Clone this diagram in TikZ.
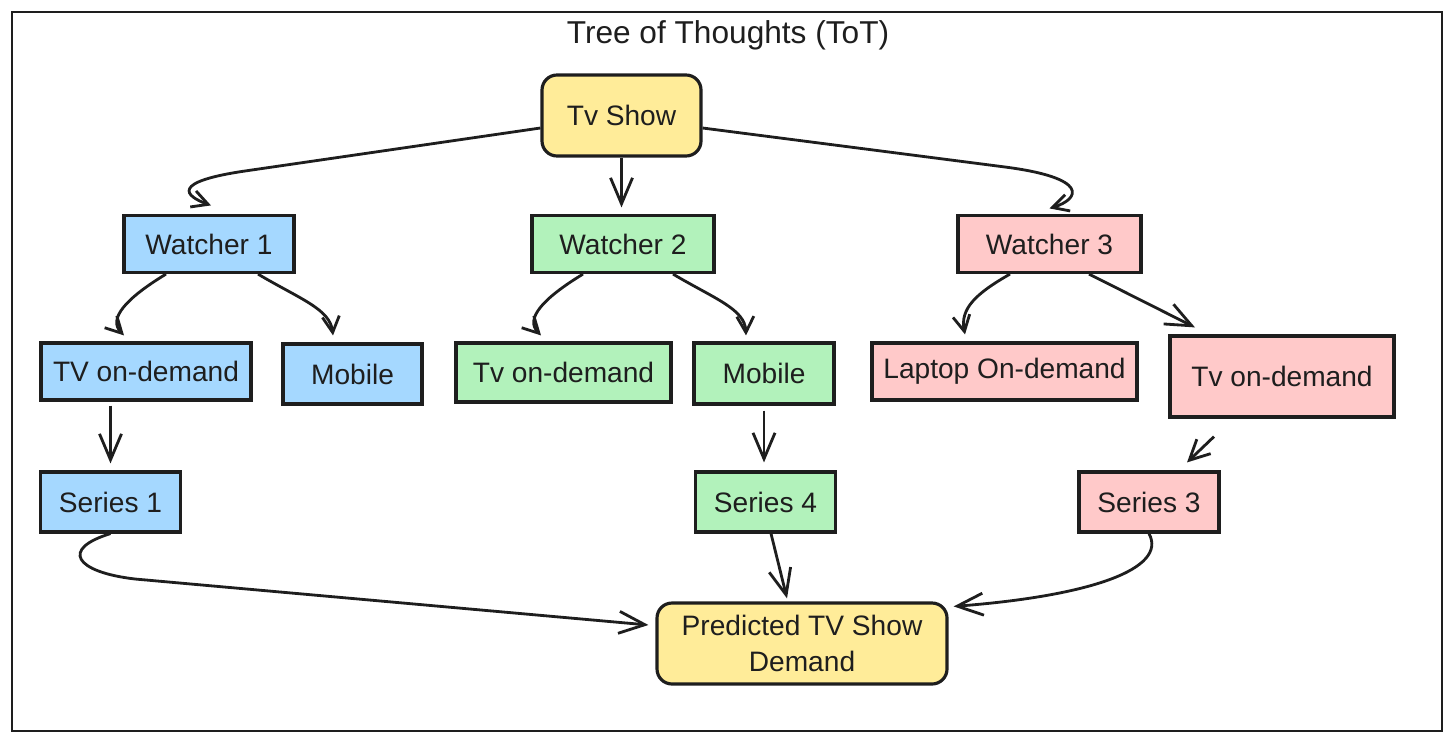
\documentclass[tikz,border=0pt]{standalone}
\usepackage{fontspec}
\setmainfont{Liberation Sans}
\usetikzlibrary{arrows.meta}

\definecolor{inkline}{HTML}{1E1E1E}
\definecolor{showyellow}{HTML}{FFEC99}
\definecolor{watchblue}{HTML}{A5D8FF}
\definecolor{watchgreen}{HTML}{B2F2BB}
\definecolor{watchpink}{HTML}{FFC9C9}

\begin{document}
\begin{tikzpicture}[x=1cm, y=1cm, >={Straight Barb[length=2.6mm,width=2.2mm]},
  every thought/.style={draw=inkline, line width=0.9pt, inner sep=0pt, text=inkline,
    font=\fontsize{8}{10}\selectfont, align=center},
  small tip/.style={-{Straight Barb[length=1.6mm,width=1.7mm]}},
  link/.style={draw=inkline, line width=0.8pt}]

\useasboundingbox (0,0) rectangle (14.56,7.44);
\draw [inkline, line width=0.8pt] (0.12,0.13) rectangle (14.42,7.32);

% Title and root.

\node [text=inkline, font=\fontsize{9}{10}\selectfont] (title) at (7.28,7.09) {Tree of Thoughts (ToT)};

\node [every thought, fill=showyellow, rounded corners=1.5mm, minimum width=1.59cm, minimum height=0.81cm]
  (show) at (6.215,6.285) {Tv Show};

% Watchers.

\foreach \c/\x/\w [count=\i] in {watchblue/2.09/1.70, watchgreen/6.23/1.82, watchpink/10.495/1.83}
  \node [every thought, fill=\c, minimum width=\w cm, minimum height=0.57cm] (watcher-\i) at (\x,5.0) {Watcher \i};

% Devices.

\foreach \l/\c/\x/\y/\w/\h [count=\i] in {TV on-demand/watchblue/1.46/3.725/2.10/0.57,
  Mobile/watchblue/3.525/3.70/1.39/0.60,
  Tv on-demand/watchgreen/5.635/3.715/2.15/0.59,
  Mobile/watchgreen/7.64/3.705/1.40/0.61,
  Laptop On-demand/watchpink/10.045/3.725/2.65/0.57,
  Tv on-demand/watchpink/12.82/3.675/2.24/0.81}
  \node [every thought, fill=\c, minimum width=\w cm, minimum height=\h cm] (device-\i) at (\x,\y) {\l};

% Series and result.

\foreach \l/\c/\x [count=\i] in {1/watchblue/1.105, 4/watchgreen/7.655, 3/watchpink/11.49}
  \node [every thought, fill=\c, minimum width=1.40cm, minimum height=0.60cm] (series-\i) at (\x,2.42) {Series \l};

\node [every thought, fill=showyellow, rounded corners=1.5mm, minimum width=2.90cm, minimum height=0.81cm]
  (demand) at (8.02,1.005) {Predicted TV Show\\Demand};

% Arrows from the root.

\draw [link, small tip] ([yshift=-1.25mm]show.west) -- (2.45,5.73)
  .. controls (1.7,5.62) and (1.85,5.48) .. ([xshift=0.2mm,yshift=0.85mm]watcher-1.north);
\draw [link, ->] (show.south) -- ([yshift=0.65mm]show.south |- watcher-2.north);
\draw [link, small tip] ([yshift=-1.25mm]show.east) -- (10.05,5.77)
  .. controls (10.9,5.66) and (10.8,5.45) .. ([yshift=0.55mm]watcher-3.north);

% Arrows from the watchers.

\draw [link, small tip] ([xshift=-4.3mm]watcher-1.south)
  .. controls (1.25,4.45) and (1.08,4.25) .. ([xshift=-2.2mm,yshift=0.6mm]device-1.north);
\draw [link, small tip] ([xshift=4.9mm]watcher-1.south)
  .. controls (3.0,4.45) and (3.3,4.35) .. ([xshift=-1.95mm,yshift=0.7mm]device-2.north);
\draw [link, small tip] ([xshift=-4mm]watcher-2.south)
  .. controls (5.42,4.45) and (5.25,4.25) .. ([xshift=-2.25mm,yshift=0.6mm]device-3.north);
\draw [link, small tip] ([xshift=5mm]watcher-2.south)
  .. controls (7.15,4.45) and (7.45,4.35) .. ([xshift=-1.8mm,yshift=0.6mm]device-4.north);
\draw [link, small tip] ([xshift=-3.95mm]watcher-3.south)
  .. controls (9.75,4.5) and (9.6,4.35) .. ([xshift=-3.95mm,yshift=0.7mm]device-5.north);
\draw [link, ->] ([xshift=3.95mm]watcher-3.south) -- ([xshift=-8.7mm,yshift=0.7mm]device-6.north);

% Arrows to the series.

\draw [link, ->] ([yshift=-0.4mm]series-1.north |- device-1.south) -- ([yshift=0.7mm]series-1.north);
\draw [link, ->] ([yshift=-0.5mm]device-4.south) -- ([yshift=0.8mm]device-4.south |- series-2.north);
\draw [link, -{Straight Barb[length=2mm,width=2mm]}] ([xshift=-6.8mm,yshift=-1.8mm]device-6.south)
  -- ([xshift=3.8mm,yshift=0.8mm]series-3.north);

% Arrows to the result.

\draw [link, ->] (series-1.south) .. controls (0.6,1.95) and (0.75,1.72) .. (1.35,1.65)
  -- ([xshift=-0.7mm,yshift=1.85mm]demand.west);
\draw [link, ->] ([xshift=0.55mm]series-2.south) -- ([xshift=-1.5mm,yshift=0.3mm]demand.north);
\draw [link, ->] (series-3.south) .. controls (11.68,1.75) and (10.9,1.48)
  .. ([xshift=0.5mm,yshift=-0.5mm]demand.north east);

\end{tikzpicture}
\end{document}
